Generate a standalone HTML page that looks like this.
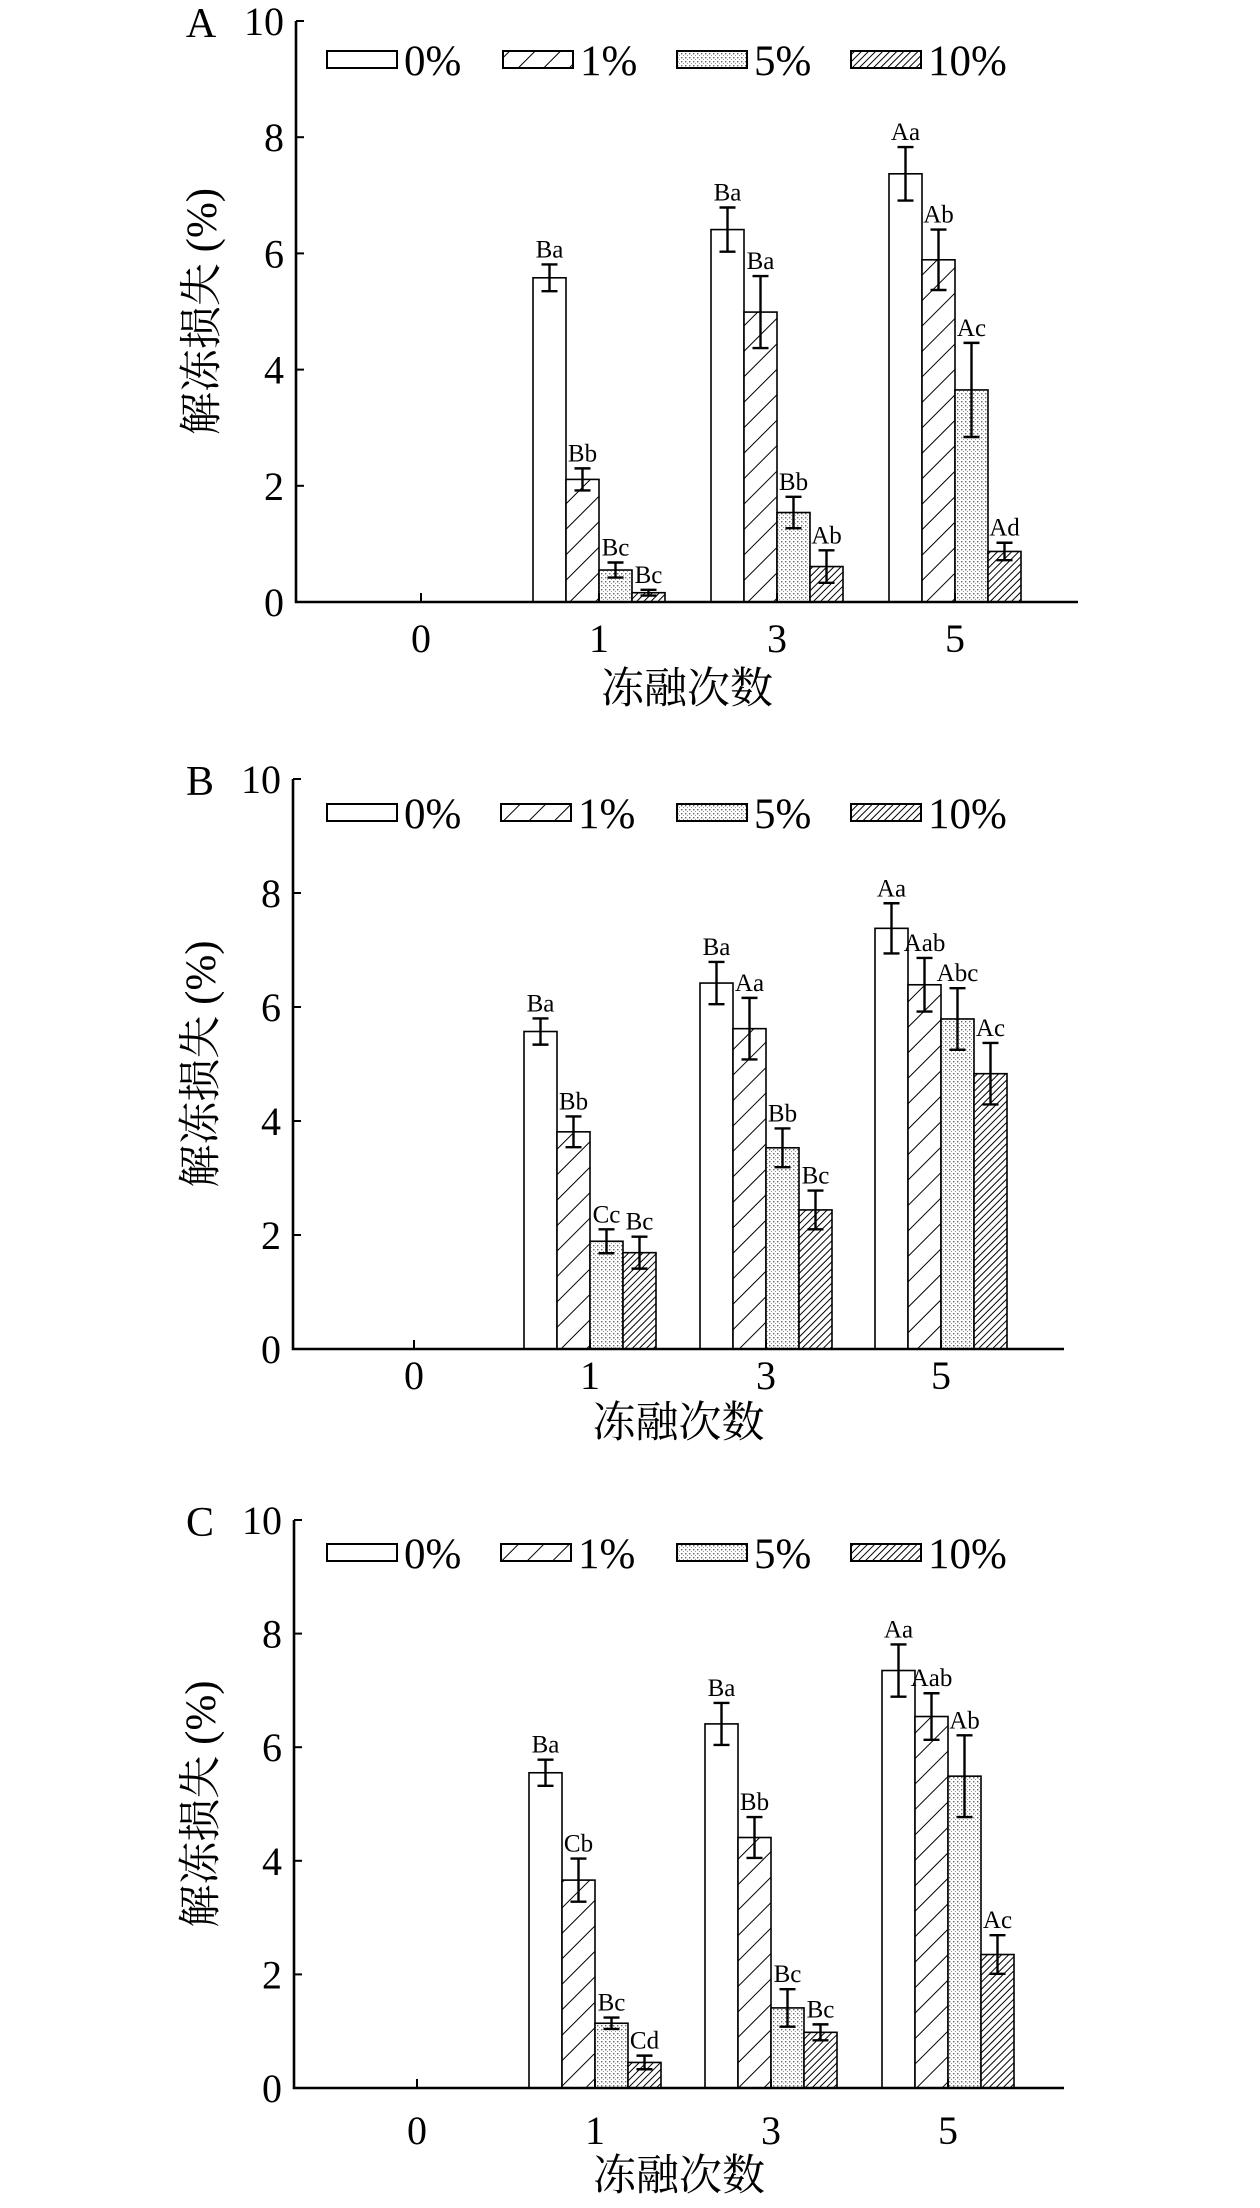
<!DOCTYPE html>
<html><head><meta charset="utf-8"><style>
html,body{margin:0;padding:0;background:#fff;}
svg{display:block;}
text{font-family:"Liberation Serif","Noto Serif CJK SC",serif;fill:#000;}
</style></head><body>
<svg id="chart" width="1260" height="2208" viewBox="0 0 1260 2208" xmlns="http://www.w3.org/2000/svg">
<defs>
<pattern id="hatchSparse" patternUnits="userSpaceOnUse" width="18" height="18" patternTransform="rotate(45)">
<rect width="18" height="18" fill="#fff"/><line x1="0" y1="0" x2="0" y2="18" stroke="#000" stroke-width="2"/></pattern>
<pattern id="dots" patternUnits="userSpaceOnUse" width="4" height="4">
<rect width="4" height="4" fill="#fff"/><rect x="1" y="1" width="1.4" height="1.4" fill="#666"/><rect x="3" y="3" width="1.2" height="1.2" fill="#999"/></pattern>
<pattern id="hatchDense" patternUnits="userSpaceOnUse" width="5" height="5" patternTransform="rotate(45)">
<rect width="5" height="5" fill="#fff"/><line x1="0" y1="0" x2="0" y2="5" stroke="#000" stroke-width="2"/></pattern>
</defs>
</svg>
<script>
const categories = ["0","1","3","5"];
const seriesNames = ["0%","1%","5%","10%"];
const yTicks = [0,2,4,6,8,10];
// Panel A
const valuesA0 = [0,5.58,6.41,7.37];
const valuesA1 = [0,2.11,4.99,5.89];
const valuesA5 = [0,0.55,1.54,3.65];
const valuesA10 = [0,0.16,0.61,0.87];
const errA0 = [0,0.23,0.38,0.46];
const errA1 = [0,0.19,0.62,0.52];
const errA5 = [0,0.13,0.27,0.81];
const errA10 = [0,0.05,0.28,0.15];
const lettersA = [["","Ba","Ba","Aa"],["","Bb","Ba","Ab"],["","Bc","Bb","Ac"],["","Bc","Ab","Ad"]];
// Panel B
const valuesB0 = [0,5.57,6.42,7.38];
const valuesB1 = [0,3.81,5.62,6.39];
const valuesB5 = [0,1.89,3.53,5.79];
const valuesB10 = [0,1.69,2.44,4.83];
const errB0 = [0,0.23,0.37,0.44];
const errB1 = [0,0.27,0.54,0.47];
const errB5 = [0,0.21,0.34,0.54];
const errB10 = [0,0.28,0.34,0.54];
const lettersB = [["","Ba","Ba","Aa"],["","Bb","Aa","Aab"],["","Cc","Bb","Abc"],["","Bc","Bc","Ac"]];
// Panel C
const valuesC0 = [0,5.55,6.41,7.35];
const valuesC1 = [0,3.66,4.41,6.54];
const valuesC5 = [0,1.14,1.41,5.49];
const valuesC10 = [0,0.45,0.98,2.35];
const errC0 = [0,0.23,0.37,0.46];
const errC1 = [0,0.38,0.36,0.41];
const errC5 = [0,0.10,0.33,0.72];
const errC10 = [0,0.12,0.14,0.34];
const lettersC = [["","Ba","Ba","Aa"],["","Cb","Bb","Aab"],["","Bc","Bc","Ab"],["","Cd","Bc","Ac"]];

const NS="http://www.w3.org/2000/svg";
const svg=document.getElementById('chart');
const fills=["#fff","url(#hatchSparse)","url(#dots)","url(#hatchDense)"];
function mk(tag,attrs,parent){const e=document.createElementNS(NS,tag);for(const k in attrs)e.setAttribute(k,attrs[k]);(parent||svg).appendChild(e);return e;}

const panels=[
 {id:"a",label:"A",ax:296,right:1078,y0:602,y10:21,centers:[421,599,777,955],legY:51,legX:[327,503,677,851],tickY:652,titleY:703,labelX:201,values:[valuesA0,valuesA1,valuesA5,valuesA10],errs:[errA0,errA1,errA5,errA10],letters:lettersA},
 {id:"b",label:"B",ax:293,right:1064,y0:1349,y10:779,centers:[414,590,766,941],legY:804,legX:[327,501,677,851],tickY:1389,titleY:1437,labelX:200,values:[valuesB0,valuesB1,valuesB5,valuesB10],errs:[errB0,errB1,errB5,errB10],letters:lettersB},
 {id:"c",label:"C",ax:294,right:1064,y0:2088,y10:1520,centers:[417,595,771,948],legY:1544,legX:[327,501,677,851],tickY:2144,titleY:2190,labelX:200,values:[valuesC0,valuesC1,valuesC5,valuesC10],errs:[errC0,errC1,errC5,errC10],letters:lettersC}
];

panels.forEach(p=>{
 const g=mk('g',{});
 
 
 const y=v=>p.y0-(p.y0-p.y10)*v/10;
 const bw=33;
 // bars
 p.values.forEach((vals,s)=>{
  vals.forEach((v,c)=>{
   const x=p.centers[c]-66+s*bw;
   if(v>0){
    const r=mk('rect',{x:x,y:y(v),width:bw,height:p.y0-y(v),fill:fills[s],stroke:'#000','stroke-width':1.6},g);
    
    
    const e=p.errs[s][c], xc=x+bw/2;
    const eb=mk('path',{d:`M${xc} ${y(v+e)}V${y(v-e)}M${xc-8} ${y(v+e)}H${xc+8}M${xc-8} ${y(v-e)}H${xc+8}`,stroke:'#000','stroke-width':2.4,fill:'none'},g);
    
    
    const t=mk('text',{x:xc,y:y(v+e)-7,'text-anchor':'middle','font-size':25},g);
    t.textContent=p.letters[s][c];
    
    
   }
  });
 });
 // axes
 const axes=mk('path',{d:`M${p.ax} ${p.y10}V${p.y0}H${p.right}`,stroke:'#000','stroke-width':2.6,fill:'none'},g);
 
 
 yTicks.forEach(t=>{
  mk('line',{x1:p.ax,x2:p.ax+8,y1:y(t),y2:y(t),stroke:'#000','stroke-width':2},g);
  const tl=mk('text',{x:p.ax-12,y:y(t)+14,'text-anchor':'end','font-size':40},g);
  tl.textContent=t;
  
  
 });
 categories.forEach((c,i)=>{
  mk('line',{x1:p.centers[i],x2:p.centers[i],y1:p.y0,y2:p.y0-9,stroke:'#000','stroke-width':2},g);
  const tl=mk('text',{x:p.centers[i],y:p.tickY,'text-anchor':'middle','font-size':40},g);
  tl.textContent=c;
  
  
 });
 const xt=mk('text',{x:(p.ax+p.right)/2+0,y:p.titleY,'text-anchor':'middle','font-size':43},g);
 xt.textContent='冻融次数';
 
 
 const cy=(p.y0+p.y10)/2;
 const yt=mk('text',{x:p.labelX,y:cy,'text-anchor':'middle','font-size':43,transform:`rotate(-90 ${p.labelX} ${cy}) translate(0 15)`},g);
 yt.textContent='解冻损失 (%)';
 
 
 const pl=mk('text',{x:p.labelX,y:p.y10+16,'text-anchor':'middle','font-size':42},g);
 pl.textContent=p.label;
 
 
 seriesNames.forEach((n,s)=>{
  const lg=mk('g',{},g);
  
  
  mk('rect',{x:p.legX[s],y:p.legY,width:70,height:17,fill:fills[s],stroke:'#000','stroke-width':2},lg);
  const lt=mk('text',{x:p.legX[s]+77,y:p.legY+24,'font-size':43},lg);
  lt.textContent=n;
 });
});
</script>
</body></html>
